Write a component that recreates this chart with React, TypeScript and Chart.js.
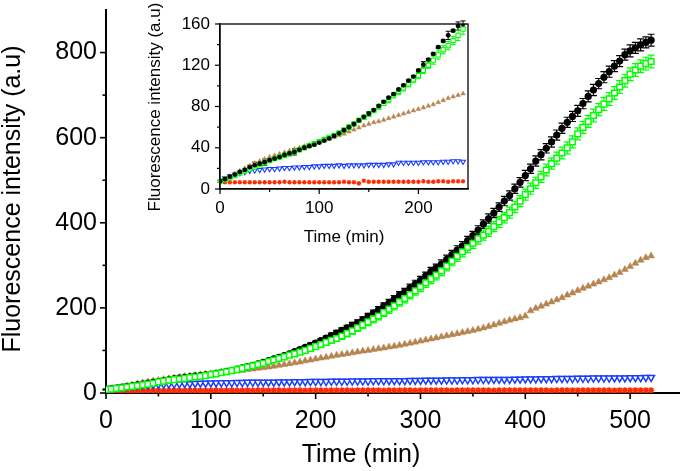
import React, { useEffect, useRef } from "react";
import { Chart, registerables } from "chart.js";
Chart.register(...registerables);

// ---------- main panel data (time in min, 5-min steps) ----------
const timeMain = [
  0, 5, 10, 15, 20, 25, 30, 35, 40, 45,
  50, 55, 60, 65, 70, 75, 80, 85, 90, 95,
  100, 105, 110, 115, 120, 125, 130, 135, 140, 145,
  150, 155, 160, 165, 170, 175, 180, 185, 190, 195,
  200, 205, 210, 215, 220, 225, 230, 235, 240, 245,
  250, 255, 260, 265, 270, 275, 280, 285, 290, 295,
  300, 305, 310, 315, 320, 325, 330, 335, 340, 345,
  350, 355, 360, 365, 370, 375, 380, 385, 390, 395,
  400, 405, 410, 415, 420, 425, 430, 435, 440, 445,
  450, 455, 460, 465, 470, 475, 480, 485, 490, 495,
  500, 505, 510, 515, 520,
];
const blackMain = [
  8, 9.5, 11, 13, 15, 17, 19, 21, 23, 25,
  27, 29, 31, 33, 35, 36.5, 38, 39.5, 41, 42.5,
  44, 46, 48.5, 51, 53.5, 56, 59, 62, 65, 68.5,
  72, 76, 80, 84, 88, 92, 97, 102, 107, 112,
  117, 123, 129, 135, 141, 147, 153, 159, 165, 172,
  180, 188, 196, 204, 212, 221, 230, 238, 247, 256,
  265, 275, 286, 294, 303, 314, 325, 336, 346, 358,
  370, 383, 397, 410, 423, 437, 451, 464, 480, 495,
  511, 527, 545, 560, 575, 590, 606, 622, 636, 650,
  663, 680, 697, 712, 727, 742, 755, 768, 780, 795,
  804, 811, 818, 824, 829,
];
const blackMainErr = [
  1, 1, 1, 1, 1, 1, 1, 1, 1, 1,
  1, 1, 1, 1, 1, 1, 1, 1, 1, 1,
  1, 1, 1, 1, 1, 1, 1, 1, 1, 1,
  1, 2, 2, 3, 3, 3, 4, 4, 4, 5,
  5, 5, 5, 6, 6, 6, 6, 7, 7, 7,
  7, 7, 7, 8, 8, 8, 8, 8, 9, 9,
  9, 9, 9, 9, 10, 10, 10, 10, 10, 10,
  10, 10, 10, 11, 11, 10, 11, 11, 11, 11,
  12, 11, 12, 12, 11, 12, 12, 12, 12, 12,
  13, 12, 13, 13, 12, 13, 13, 13, 13, 13,
  14, 13, 14, 13, 14,
];
const greenMain = [
  8, 9, 10.5, 12, 14, 15.5, 17, 19, 21, 23,
  26, 28, 30, 31.5, 33, 34.5, 36, 37.5, 39, 41,
  43, 45, 47.5, 50, 52.5, 55, 58, 61, 64, 67,
  70, 74, 77.5, 81, 85, 89, 92, 96, 100, 105,
  109, 114, 119, 124, 128, 134, 140, 146, 153, 160,
  167, 174, 181, 189, 197, 205, 214, 222, 231, 240,
  249, 259, 268, 277, 287, 298, 310, 321, 332, 342,
  352, 362, 371, 380, 391, 402, 412, 424, 437, 451,
  466, 480, 494, 508, 524, 539, 552, 564, 576, 590,
  609, 624, 638, 652, 666, 679, 691, 705, 719, 734,
  749, 759, 768, 774, 779,
];
const greenMainErr = [
  1, 1, 1, 1, 1, 1, 1, 1, 1, 1,
  1, 1, 1, 1, 1, 1, 1, 1, 1, 1,
  1, 1, 1, 1, 1, 1, 1, 1, 1, 1,
  1, 3, 3, 4, 4, 4, 5, 5, 5, 6,
  6, 6, 7, 7, 7, 8, 8, 8, 8, 9,
  9, 9, 9, 9, 10, 10, 10, 10, 10, 10,
  11, 11, 11, 11, 11, 11, 11, 12, 12, 12,
  12, 12, 12, 12, 12, 13, 12, 13, 13, 13,
  13, 13, 13, 13, 14, 13, 14, 14, 14, 14,
  14, 14, 14, 15, 14, 15, 15, 15, 15, 15,
  15, 15, 15, 15, 15,
];
const brownMain = [
  8, 10, 12, 14, 16.5, 19, 21.5, 24, 26, 28,
  30, 32, 34, 35.5, 37, 38.5, 40, 41.5, 43, 44,
  45, 46.5, 48, 49.5, 51, 52, 53, 55, 56.5, 58,
  59.5, 61, 63, 65, 67, 69, 71, 73, 75.5, 77.5,
  80, 82, 84, 86.5, 88.5, 90.5, 92.5, 94.5, 96.5, 98.5,
  100, 102, 104, 106, 108, 110, 112, 114.5, 117, 119.5,
  122, 124.5, 127, 129.5, 132, 134.5, 137, 139.5, 142, 144.5,
  147, 150, 153, 156.5, 160, 164, 167.5, 171, 174, 177,
  181, 193, 199, 204, 209, 214, 219, 224, 230, 235,
  241, 246, 251, 256, 261, 266, 271, 277, 283, 290,
  297, 305, 312, 318, 322,
];
const blueMain = [
  9, 11, 13, 14.5, 16, 17, 18, 18.5, 19, 19.5,
  20, 20.5, 21, 21, 21.5, 22, 22, 22.5, 23, 23,
  23.5, 23.5, 24, 24, 24, 24.5, 24.5, 25, 25, 25,
  25.5, 25.5, 25.5, 26, 26, 26, 26.5, 26.5, 26.5, 27,
  27, 27, 27, 27.5, 27.5, 27.5, 27.5, 28, 28, 28,
  28, 28.5, 28.5, 28.5, 29, 29, 29, 29, 29.5, 29.5,
  29.5, 30, 30, 30, 30, 30.5, 30.5, 30.5, 31, 31,
  31, 31.5, 31.5, 31.5, 32, 32, 32, 32, 32.5, 32.5,
  33, 33, 33, 33.5, 33.5, 33.5, 34, 34, 34, 34,
  34.5, 34.5, 34.5, 35, 35, 35, 35, 35.5, 35.5, 35.5,
  36, 36, 36, 36.5, 36.5,
];
const redMain = [
  5, 5, 5.5, 5, 5.5, 5.5, 5, 5.5, 5.5, 5.5,
  5.5, 5, 5.5, 5.5, 5.5, 5.5, 6, 5.5, 5.5, 5.5,
  5.5, 6, 5.5, 5.5, 6, 5.5, 5.5, 6, 5.5, 6,
  6, 5.5, 6, 6, 5.5, 6, 6, 6, 5.5, 6,
  6, 6, 5.5, 6, 6, 6, 6, 5.5, 6, 6,
  6, 6, 6, 5.5, 6, 6, 6, 6, 6, 5.5,
  6, 6, 6, 6, 6, 6, 5.5, 6, 6, 6,
  6, 6, 6, 6, 5.5, 6, 6, 6, 6, 6,
  6, 6, 6, 6, 6, 5.5, 6, 6, 6, 6,
  6, 6, 6, 6, 6, 6, 6, 5.5, 6, 6,
  6, 6, 6, 6, 6,
];

// ---------- inset panel data ----------
const timeInset = [
  0, 5, 10, 15, 20, 25, 30, 35, 40, 45,
  50, 55, 60, 65, 70, 75, 80, 85, 90, 95,
  100, 105, 110, 115, 120, 125, 130, 135, 140, 145,
  150, 155, 160, 165, 170, 175, 180, 185, 190, 195,
  200, 205, 210, 215, 220, 225, 230, 235, 240, 245,
];
const blackInset = [
  7.5, 9.5, 12, 14, 16.5, 18.5, 21, 23, 24.5, 26,
  28, 29.5, 31, 33, 34.5, 36, 38, 40, 41.5, 43,
  45, 47, 49, 51.5, 54, 57, 60, 63, 66.5, 70,
  73, 76.5, 80.5, 84.5, 88.5, 92, 96.5, 100.5, 105, 109,
  115, 120.5, 125.5, 131, 137.5, 143.5, 149, 153.5, 158, 160,
];
const blackInsetErr = [
  1, 1, 1, 1, 1, 1, 2, 3, 1, 3,
  1, 1, 1, 1, 1, 3, 1, 1, 1, 1,
  1, 1, 1, 1, 1, 1, 1, 1, 1, 1,
  2, 1, 1, 1, 1, 1, 1, 1, 1, 1,
  1, 3, 1, 1, 1, 1, 4, 1, 4, 3,
];
const greenInset = [
  7.5, 9, 11, 13, 15.5, 17.5, 19.5, 21.5, 23.5, 25.5,
  27.5, 29.5, 31, 32.5, 34, 36, 38, 40, 42, 44,
  46, 48, 50, 52, 54.5, 57, 60, 63, 66.5, 69.5,
  72.5, 76, 79.5, 83, 86.5, 90.5, 94.5, 98, 102, 106,
  110, 115, 120, 125, 130, 135, 139, 144, 149, 155,
];
const greenInsetErr = [
  1, 1, 1, 1, 1, 1, 1, 1, 1, 2,
  1, 1, 1, 1, 2, 1, 1, 1, 1, 1,
  1, 1, 1, 1, 1, 2, 2, 2, 2, 2,
  2, 2, 2, 2, 3, 2, 3, 3, 3, 3,
  3, 3, 3, 4, 4, 4, 4, 4, 5, 5,
];
const brownInset = [
  8, 10, 12.5, 15, 17.5, 20, 22.5, 25, 27, 29,
  31, 32.5, 34, 35.5, 37, 38.5, 40, 41.5, 43, 44,
  45.5, 47, 48.5, 50, 52, 53.5, 55.5, 57.5, 59.5, 61.5,
  63, 64.5, 65.5, 67, 68.5, 70, 71.5, 73, 74.5, 76,
  77.5, 79, 80.5, 82, 84, 86, 88, 89.5, 91, 92.5,
];
const blueInset = [
  8, 10.5, 12.5, 14, 15.5, 16.5, 17.5, 18, 18.5, 19,
  19.5, 19.5, 20, 20.5, 20.5, 21, 21, 21.5, 21.5, 22,
  22, 22.5, 22.5, 22.5, 23, 22.5, 23, 23, 23, 23,
  23.5, 23.5, 23.5, 23.5, 24, 24, 25.5, 25.5, 25.5, 25.5,
  25.5, 26, 26, 26, 26, 26.5, 26.5, 27, 27, 26.5,
];
const redInset = [
  6.5, 6.5, 6.5, 6.5, 6.5, 6.5, 6.5, 6.5, 6.5, 6.5,
  6.5, 6.5, 6.5, 7, 6.5, 6.5, 6.5, 6.5, 6.5, 6.5,
  6.5, 6.5, 6.5, 6.5, 6.5, 7, 6.5, 6.5, 5.5, 8,
  7, 7, 7, 7, 7, 7, 7, 7, 7, 7,
  7, 7.5, 7, 7, 7.5, 7.5, 7, 7.5, 7.5, 7.5,
];

// ---------- axis tick definitions ----------
const mainXMajor = [0, 100, 200, 300, 400, 500];
const mainXMinor = [50, 150, 250, 350, 450];
const mainYMajor = [0, 200, 400, 600, 800];
const mainYMinor = [100, 300, 500, 700];
const insetXMajor = [0, 100, 200];
const insetXMinor = [50, 150];
const insetYMajor = [0, 40, 80, 120, 160];
const insetYMinor = [20, 60, 100, 140];

const FONT = "'Liberation Sans', Arial, sans-serif";
const BLACK = "#000000";
const GREEN = "#00ff00";
const BROWN = "#b5854f";
const BLUE = "#1a3cff";
const RED = "#ff2a00";

const toXY = (t: number[], v: number[]) => v.map((y, i) => ({ x: t[i], y }));

const errorBarPlugin = {
  id: "errbars",
  beforeDatasetsDraw(chart: any) {
    const ctx = chart.ctx;
    const ys = chart.scales.y;
    chart.data.datasets.forEach((ds: any, i: number) => {
      if (!ds.errors) return;
      const meta = chart.getDatasetMeta(i);
      ctx.save();
      ctx.strokeStyle = ds.errColor;
      ctx.lineWidth = ds.errWidth;
      meta.data.forEach((pt: any, j: number) => {
        const e = ds.errors[j];
        const v = ds.data[j].y;
        if (!e) return;
        const y1 = ys.getPixelForValue(v + e);
        const y2 = ys.getPixelForValue(v - e);
        const x = pt.x;
        const c = ds.capHalf;
        ctx.beginPath();
        ctx.moveTo(x, y1);
        ctx.lineTo(x, y2);
        ctx.moveTo(x - c, y1);
        ctx.lineTo(x + c, y1);
        ctx.moveTo(x - c, y2);
        ctx.lineTo(x + c, y2);
        ctx.stroke();
      });
      ctx.restore();
    });
  },
};

const decorPlugin = {
  id: "decor",
  afterDraw(chart: any, _args: any, opts: any) {
    const ctx = chart.ctx;
    const xs = chart.scales.x;
    const ys = chart.scales.y;
    const a = chart.chartArea;
    ctx.save();
    ctx.strokeStyle = "#000";
    ctx.lineWidth = opts.tickWidth;
    const line = (x1: number, y1: number, x2: number, y2: number) => {
      ctx.beginPath();
      ctx.moveTo(x1, y1);
      ctx.lineTo(x2, y2);
      ctx.stroke();
    };
    opts.xMajor.forEach((v: number) => {
      const p = xs.getPixelForValue(v);
      line(p, a.bottom, p, a.bottom + opts.majorLen);
    });
    opts.xMinor.forEach((v: number) => {
      const p = xs.getPixelForValue(v);
      line(p, a.bottom, p, a.bottom + opts.minorLen);
    });
    opts.yMajor.forEach((v: number) => {
      const p = ys.getPixelForValue(v);
      line(a.left, p, a.left - opts.majorLen, p);
    });
    opts.yMinor.forEach((v: number) => {
      const p = ys.getPixelForValue(v);
      line(a.left, p, a.left - opts.minorLen, p);
    });
    if (opts.frame) {
      ctx.lineWidth = opts.frameWidth;
      ctx.strokeRect(a.left, a.top, a.right - a.left, a.bottom - a.top);
    }
    ctx.fillStyle = "#000";
    ctx.font = `${opts.titleSize}px ${FONT}`;
    ctx.textAlign = "center";
    ctx.textBaseline = "middle";
    ctx.fillText(opts.xTitle.text, opts.xTitle.x, opts.xTitle.y);
    ctx.translate(opts.yTitle.x, opts.yTitle.y);
    ctx.rotate(-Math.PI / 2);
    ctx.fillText(opts.yTitle.text, 0, 0);
    ctx.restore();
  },
};

const zeroPad = (s: any) => {
  s.paddingTop = 0;
  s.paddingBottom = 0;
  s.paddingLeft = 0;
  s.paddingRight = 0;
};

function makeOptions(cfg: any) {
  return {
    responsive: false,
    animation: false,
    events: [],
    layout: { padding: cfg.padding },
    plugins: {
      legend: { display: false },
      tooltip: { enabled: false },
      decor: cfg.decor,
    },
    scales: {
      x: {
        type: "linear",
        min: cfg.xMin,
        max: cfg.xMax,
        afterBuildTicks: (s: any) => {
          s.ticks = cfg.xMajor.map((v: number) => ({ value: v }));
        },
        afterFit: (s: any) => {
          s.height = cfg.xHeight;
          zeroPad(s);
        },
        grid: { display: false, drawTicks: false },
        border: { display: true, color: "#000", width: cfg.axisWidth },
        ticks: {
          color: "#000",
          font: { family: FONT, size: cfg.fontSize },
          padding: cfg.xPad,
          maxRotation: 0,
          autoSkip: false,
        },
      },
      y: {
        type: "linear",
        min: cfg.yMin,
        max: cfg.yMax,
        afterBuildTicks: (s: any) => {
          s.ticks = cfg.yMajor.map((v: number) => ({ value: v }));
        },
        afterFit: (s: any) => {
          s.width = cfg.yWidth;
          zeroPad(s);
        },
        grid: { display: false, drawTicks: false },
        border: { display: true, color: "#000", width: cfg.axisWidth },
        ticks: {
          color: "#000",
          font: { family: FONT, size: cfg.fontSize },
          padding: cfg.yPad,
          autoSkip: false,
        },
      },
    },
  };
}

function series(label: string, t: number[], v: number[], style: any) {
  return {
    label,
    data: toXY(t, v),
    showLine: false,
    ...style,
  };
}

export default function App() {
  const mainRef = useRef<HTMLCanvasElement>(null);
  const insetRef = useRef<HTMLCanvasElement>(null);

  useEffect(() => {
    const main = new Chart(mainRef.current as HTMLCanvasElement, {
      type: "scatter",
      data: {
        datasets: [
          series("green", timeMain, greenMain, {
            pointStyle: "rect", pointRadius: 4, pointBorderWidth: 1.5,
            pointBorderColor: GREEN, pointBackgroundColor: "#ffffff",
            errors: greenMainErr, errColor: GREEN, errWidth: 1.2, capHalf: 3.5,
          }),
          series("black", timeMain, blackMain, {
            pointStyle: "circle", pointRadius: 3.6, pointBorderWidth: 0,
            pointBackgroundColor: BLACK, pointBorderColor: BLACK,
            errors: blackMainErr, errColor: BLACK, errWidth: 1.2, capHalf: 3.5,
          }),
          series("brown", timeMain, brownMain, {
            pointStyle: "triangle", pointRadius: 4, pointBorderWidth: 0.5,
            pointBackgroundColor: BROWN, pointBorderColor: BROWN,
          }),
          series("blue", timeMain, blueMain, {
            pointStyle: "triangle", rotation: 180, pointRadius: 4, pointBorderWidth: 1.5,
            pointBackgroundColor: "#ffffff", pointBorderColor: BLUE,
          }),
          series("red", timeMain, redMain, {
            pointStyle: "star", pointRadius: 3.2, pointBorderWidth: 1.6,
            pointBackgroundColor: RED, pointBorderColor: RED,
          }),
        ],
      },
      options: makeOptions({
        padding: { top: 10, right: 1, left: 0, bottom: 0 },
        xMin: 0, xMax: 547, yMin: 0, yMax: 900,
        xMajor: mainXMajor, yMajor: mainYMajor,
        xHeight: 78, yWidth: 106, axisWidth: 2,
        fontSize: 25, xPad: 13, yPad: 9,
        decor: {
          xMajor: mainXMajor, xMinor: mainXMinor, yMajor: mainYMajor, yMinor: mainYMinor,
          majorLen: 6, minorLen: 3.5, tickWidth: 1.6, frame: false, frameWidth: 2,
          titleSize: 25,
          xTitle: { text: "Time (min)", x: 361, y: 455 },
          yTitle: { text: "Fluorescence intensity (a.u)", x: 13, y: 199 },
        },
      }) as any,
      plugins: [errorBarPlugin, decorPlugin],
    });

    const inset = new Chart(insetRef.current as HTMLCanvasElement, {
      type: "scatter",
      data: {
        datasets: [
          series("black", timeInset, blackInset, {
            pointStyle: "circle", pointRadius: 2.4, pointBorderWidth: 0,
            pointBackgroundColor: BLACK, pointBorderColor: BLACK,
            errors: blackInsetErr, errColor: BLACK, errWidth: 1, capHalf: 2.5,
          }),
          series("green", timeInset, greenInset, {
            pointStyle: "rect", pointRadius: 3, pointBorderWidth: 1.1,
            pointBorderColor: GREEN, pointBackgroundColor: "#ffffff",
            errors: greenInsetErr, errColor: GREEN, errWidth: 1, capHalf: 2.5,
          }),
          series("brown", timeInset, brownInset, {
            pointStyle: "triangle", pointRadius: 2.7, pointBorderWidth: 0.5,
            pointBackgroundColor: BROWN, pointBorderColor: BROWN,
          }),
          series("blue", timeInset, blueInset, {
            pointStyle: "triangle", rotation: 180, pointRadius: 2.8, pointBorderWidth: 1.1,
            pointBackgroundColor: "#ffffff", pointBorderColor: BLUE,
          }),
          series("red", timeInset, redInset, {
            pointStyle: "star", pointRadius: 2.3, pointBorderWidth: 1.2,
            pointBackgroundColor: RED, pointBorderColor: RED,
          }),
        ],
      },
      options: makeOptions({
        padding: { top: 24, right: 7, left: 0, bottom: 0 },
        xMin: 0, xMax: 250, yMin: 0, yMax: 160,
        xMajor: insetXMajor, yMajor: insetYMajor,
        xHeight: 71, yWidth: 90, axisWidth: 1.3,
        fontSize: 17, xPad: 9, yPad: 10,
        decor: {
          xMajor: insetXMajor, xMinor: insetXMinor, yMajor: insetYMajor, yMinor: insetYMinor,
          majorLen: 5, minorLen: 3, tickWidth: 1.2, frame: true, frameWidth: 1.3,
          titleSize: 17,
          xTitle: { text: "Time (min)", x: 214, y: 237 },
          yTitle: { text: "Fluorescence intensity (a.u)", x: 25, y: 107 },
        },
      }) as any,
      plugins: [errorBarPlugin, decorPlugin],
    });

    return () => {
      main.destroy();
      inset.destroy();
    };
  }, []);

  return (
    <div style={{ position: "fixed", left: 0, top: 0, width: 685, height: 471, background: "#fff", overflow: "hidden" }}>
      <canvas ref={mainRef} width={685} height={471} style={{ position: "absolute", left: 0, top: 0 }} />
      <canvas ref={insetRef} width={345} height={260} style={{ position: "absolute", left: 130, top: 0 }} />
    </div>
  );
}
